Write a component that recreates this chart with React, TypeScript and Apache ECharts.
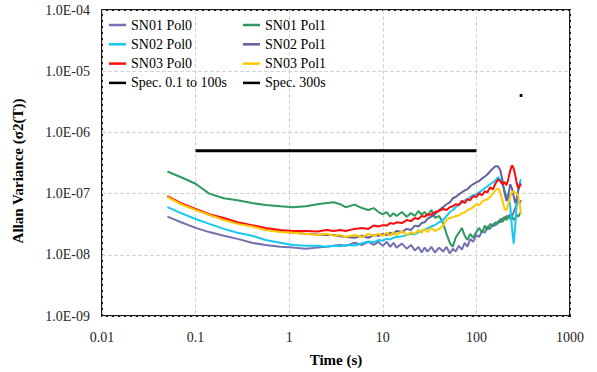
import React, { useEffect, useRef } from "react";
import * as echarts from "echarts";

const times = [0.05, 0.07, 0.1, 0.14, 0.2, 0.28, 0.4, 0.56, 0.8, 1.1, 1.5, 2, 2.5, 3, 3.5, 4, 5, 6, 7, 8, 9, 10, 11, 12, 13, 14, 16, 18, 20, 22, 24, 26, 28, 30, 33, 36, 40, 44, 48, 52, 56, 60, 65, 70, 75, 80, 86, 92, 100, 107, 115, 123, 131, 140, 150, 160, 170, 180, 190, 200, 210, 220, 230, 240, 250, 260, 270, 280, 290, 300];

const sn01Pol0 = [4.2e-8, 3.4e-8, 2.75e-8, 2.35e-8, 2.05e-8, 1.82e-8, 1.57e-8, 1.45e-8, 1.35e-8, 1.31e-8,
  1.26e-8, 1.31e-8, 1.35e-8, 1.4e-8, 1.45e-8, 1.4e-8, 1.57e-8, 1.45e-8, 1.63e-8, 1.45e-8,
  1.63e-8, 1.4e-8, 1.63e-8, 1.35e-8, 1.57e-8, 1.31e-8, 1.52e-8, 1.26e-8, 1.45e-8, 1.17e-8,
  1.35e-8, 1.09e-8, 1.31e-8, 1.13e-8, 1.35e-8, 1.09e-8, 1.31e-8, 1.13e-8, 1.35e-8, 1.05e-8,
  1.26e-8, 1.13e-8, 1.4e-8, 1.22e-8, 1.57e-8, 1.35e-8, 1.82e-8, 1.63e-8, 2.1e-8, 1.95e-8,
  2.45e-8, 2.29e-8, 2.9e-8, 2.65e-8, 3.2e-8, 3.0e-8, 3.55e-8, 3.4e-8, 4.0e-8, 3.7e-8,
  4.3e-8, 4.2e-8, 4.6e-8, 4.3e-8, 5.0e-8, 5.8e-8, 6.7e-8, 7.6e-8, 7.0e-8, 7.8e-8];

const sn01Pol1 = [2.3e-7, 1.85e-7, 1.45e-7, 1.0e-7, 8.4e-8, 7.8e-8, 7.0e-8, 6.5e-8, 6.2e-8, 6.0e-8,
  6.2e-8, 6.7e-8, 7.0e-8, 7.2e-8, 6.7e-8, 6.0e-8, 6.6e-8, 5.8e-8, 5.4e-8, 5.8e-8,
  5.0e-8, 4.6e-8, 5.0e-8, 4.2e-8, 4.8e-8, 4.3e-8, 5.0e-8, 4.2e-8, 4.8e-8, 4.3e-8,
  5.2e-8, 4.5e-8, 5.0e-8, 4.3e-8, 5.4e-8, 4.0e-8, 4.3e-8, 3.3e-8, 2.2e-8, 1.57e-8,
  1.35e-8, 1.9e-8, 2.3e-8, 2.75e-8, 2.05e-8, 1.75e-8, 2.2e-8, 1.9e-8, 2.35e-8, 2.75e-8,
  2.3e-8, 3.0e-8, 2.55e-8, 3.2e-8, 2.9e-8, 3.4e-8, 3.2e-8, 3.85e-8, 3.4e-8, 4.2e-8,
  3.7e-8, 4.3e-8, 3.85e-8, 4.2e-8, 3.7e-8, 4.0e-8, 4.5e-8, 4.2e-8, 4.6e-8, 5.0e-8];

const sn02Pol0 = [6.0e-8, 4.8e-8, 3.85e-8, 3.2e-8, 2.65e-8, 2.29e-8, 2.05e-8, 1.75e-8, 1.57e-8, 1.45e-8,
  1.4e-8, 1.4e-8, 1.35e-8, 1.4e-8, 1.38e-8, 1.45e-8, 1.42e-8, 1.55e-8, 1.65e-8, 1.6e-8,
  1.75e-8, 1.7e-8, 1.82e-8, 1.78e-8, 1.9e-8, 1.95e-8, 2.0e-8, 2.1e-8, 2.2e-8, 2.15e-8,
  2.35e-8, 2.45e-8, 2.6e-8, 2.7e-8, 2.9e-8, 3.05e-8, 3.4e-8, 3.7e-8, 4.3e-8, 5.0e-8,
  5.4e-8, 6.0e-8, 6.7e-8, 7.0e-8, 7.8e-8, 8.1e-8, 8.8e-8, 9.4e-8, 9.7e-8, 1.05e-7,
  1.13e-7, 1.22e-7, 1.32e-7, 1.42e-7, 1.52e-7, 1.65e-7, 1.85e-7, 1.7e-7, 1.42e-7, 1.13e-7,
  9.1e-8, 9.7e-8, 6.2e-8, 2.75e-8, 1.52e-8, 3.0e-8, 7.0e-8, 1.13e-7, 1.52e-7, 1.7e-7];

const sn02Pol1 = [9.0e-8, 6.8e-8, 5.5e-8, 4.5e-8, 3.8e-8, 3.3e-8, 2.95e-8, 2.6e-8, 2.4e-8, 2.3e-8,
  2.2e-8, 2.15e-8, 2.1e-8, 2.1e-8, 2.0e-8, 1.95e-8, 1.9e-8, 2.05e-8, 1.9e-8, 2.1e-8,
  2.05e-8, 2.2e-8, 2.1e-8, 2.29e-8, 2.2e-8, 2.45e-8, 2.35e-8, 2.65e-8, 2.55e-8, 3.0e-8,
  2.9e-8, 3.3e-8, 3.4e-8, 3.85e-8, 4.2e-8, 4.6e-8, 5.4e-8, 6.0e-8, 6.7e-8, 7.2e-8,
  8.4e-8, 8.8e-8, 9.7e-8, 1.05e-7, 1.13e-7, 1.17e-7, 1.32e-7, 1.42e-7, 1.52e-7, 1.6e-7,
  1.77e-7, 1.9e-7, 2.05e-7, 2.3e-7, 2.58e-7, 2.8e-7, 2.8e-7, 2.4e-7, 1.65e-7, 1.01e-7,
  7.6e-8, 9.7e-8, 1.42e-7, 1.22e-7, 9.1e-8, 7.0e-8, 8.4e-8, 1.13e-7, 1.42e-7, 1.47e-7];

const sn03Pol0 = [9.1e-8, 7.0e-8, 5.6e-8, 4.6e-8, 4.0e-8, 3.4e-8, 3.05e-8, 2.75e-8, 2.55e-8, 2.45e-8,
  2.45e-8, 2.4e-8, 2.55e-8, 2.45e-8, 2.55e-8, 2.45e-8, 2.65e-8, 2.75e-8, 2.65e-8, 3.0e-8,
  2.9e-8, 3.05e-8, 3.0e-8, 3.3e-8, 3.2e-8, 3.4e-8, 3.3e-8, 3.7e-8, 3.55e-8, 4.0e-8,
  3.85e-8, 4.3e-8, 4.2e-8, 4.6e-8, 4.5e-8, 5.0e-8, 5.2e-8, 5.6e-8, 5.4e-8, 6.0e-8,
  6.2e-8, 6.7e-8, 6.5e-8, 7.6e-8, 7.0e-8, 8.1e-8, 7.8e-8, 9.1e-8, 8.8e-8, 1.01e-7,
  9.4e-8, 1.09e-7, 1.05e-7, 1.27e-7, 1.17e-7, 1.47e-7, 1.7e-7, 1.6e-7, 1.42e-7, 1.55e-7,
  1.37e-7, 1.77e-7, 2.4e-7, 2.9e-7, 2.58e-7, 2.0e-7, 1.47e-7, 1.22e-7, 1.32e-7, 1.42e-7];

const sn03Pol1 = [8.8e-8, 6.7e-8, 5.4e-8, 4.5e-8, 3.7e-8, 3.2e-8, 2.9e-8, 2.55e-8, 2.35e-8, 2.29e-8,
  2.2e-8, 2.1e-8, 2.2e-8, 2.05e-8, 2.1e-8, 1.95e-8, 2.1e-8, 1.95e-8, 2.2e-8, 2.05e-8,
  2.2e-8, 2.05e-8, 2.29e-8, 2.05e-8, 2.35e-8, 2.1e-8, 2.45e-8, 2.1e-8, 2.35e-8, 2.2e-8,
  2.55e-8, 2.29e-8, 2.65e-8, 2.35e-8, 2.75e-8, 2.45e-8, 2.65e-8, 3.0e-8, 3.7e-8, 4.0e-8,
  4.1e-8, 4.3e-8, 4.4e-8, 4.8e-8, 4.9e-8, 5.4e-8, 5.6e-8, 6.0e-8, 6.7e-8, 6.5e-8,
  7.4e-8, 7.8e-8, 8.1e-8, 8.8e-8, 1.01e-7, 1.13e-7, 1.22e-7, 1.05e-7, 7.6e-8, 5.6e-8,
  5.4e-8, 7.0e-8, 9.1e-8, 1.05e-7, 1.09e-7, 1.05e-7, 1.01e-7, 9.1e-8, 6.7e-8, 4.6e-8];

const specShortTimes = [0.1, 100];
const specShortValues = [5e-7, 5e-7];
const specLongTimes = [290, 310];
const specLongValues = [4e-6, 4e-6];

const xTickLabels: Record<string, string> = { "-2": "0.01", "-1": "0.1", "0": "1", "1": "10", "2": "100", "3": "1000" };

const seriesDefs = [
  { name: "SN01 Pol0", values: sn01Pol0, color: "#7371B0" },
  { name: "SN01 Pol1", values: sn01Pol1, color: "#2F9A5F" },
  { name: "SN02 Pol0", values: sn02Pol0, color: "#16C8F2" },
  { name: "SN02 Pol1", values: sn02Pol1, color: "#62609E" },
  { name: "SN03 Pol0", values: sn03Pol0, color: "#FF0A0A" },
  { name: "SN03 Pol1", values: sn03Pol1, color: "#FFC800" },
];

const pair = (xs: number[], ys: number[]) => xs.map((x, i) => [x, ys[i]]);

export default function App() {
  const ref = useRef<HTMLDivElement>(null);
  useEffect(() => {
    if (!ref.current) return;
    const chart = echarts.init(ref.current, null, { renderer: "svg" });
    const font = "Liberation Serif";
    const series: any[] = seriesDefs.map((s) => ({
      name: s.name,
      type: "line",
      data: pair(times, s.values),
      symbol: "none",
      lineStyle: { width: 2, color: s.color },
      itemStyle: { color: s.color },
    }));
    series.push({
      name: "Spec. 0.1 to 100s",
      type: "line",
      data: pair(specShortTimes, specShortValues),
      symbol: "none",
      lineStyle: { width: 3, color: "#000" },
      itemStyle: { color: "#000" },
    });
    series.push({
      name: "Spec. 300s",
      type: "line",
      data: pair(specLongTimes, specLongValues),
      symbol: "none",
      lineStyle: { width: 3, color: "#000" },
      itemStyle: { color: "#000" },
    });
    const legendText = { fontFamily: font, fontSize: 14, color: "#000", lineHeight: 16 };
    const legendBase = { orient: "vertical", top: 17, padding: 0, icon: "rect", itemWidth: 17, itemHeight: 2.5, itemGap: 3.3, textStyle: legendText };
    const exp = (v: number) => Math.round(Math.log10(v));
    chart.setOption({
      animation: false,
      grid: { left: 102, right: 27, top: 10, bottom: 53, show: true, borderColor: "#1a1a1a", borderWidth: 2 },
      legend: [
        { ...legendBase, left: 109, data: ["SN01 Pol0", "SN02 Pol0", "SN03 Pol0", "Spec. 0.1 to 100s"] },
        { ...legendBase, left: 243, data: ["SN01 Pol1", "SN02 Pol1", "SN03 Pol1", "Spec. 300s"] },
      ],
      xAxis: {
        type: "log",
        logBase: 10,
        min: 0.01,
        max: 1000,
        name: "Time (s)",
        nameLocation: "middle",
        nameGap: 36,
        nameTextStyle: { fontFamily: font, fontSize: 15, fontWeight: "bold", color: "#000" },
        axisLine: { show: false },
        axisTick: { show: false },
        axisLabel: {
          fontFamily: font,
          fontSize: 14,
          color: "#262626",
          margin: 14,
          formatter: (v: number) => xTickLabels[String(exp(v))] ?? String(v),
        },
        splitLine: { show: true, lineStyle: { type: "dashed", color: "#d4d4d4", width: 1 } },
      },
      yAxis: {
        type: "log",
        logBase: 10,
        min: 1e-9,
        max: 1e-4,
        name: "Allan Variance (σ2(T))",
        nameLocation: "middle",
        nameGap: 77,
        nameRotate: 90,
        nameTextStyle: { fontFamily: font, fontSize: 15, fontWeight: "bold", color: "#000", padding: [0, 16, 0, 0] },
        axisLine: { show: false },
        axisTick: { show: false },
        axisLabel: {
          fontFamily: font,
          fontSize: 14,
          color: "#262626",
          margin: 12,
          formatter: (v: number) => {
            const e = exp(v);
            return "1.0E" + (e < 0 ? "-" : "+") + String(Math.abs(e)).padStart(2, "0");
          },
        },
        splitLine: { show: true, lineStyle: { type: "dashed", color: "#d4d4d4", width: 1 } },
      },
      series,
    });
    return () => chart.dispose();
  }, []);
  return <div ref={ref} style={{ position: "fixed", left: 0, top: 0, width: 597, height: 372, background: "#fff" }} />;
}
